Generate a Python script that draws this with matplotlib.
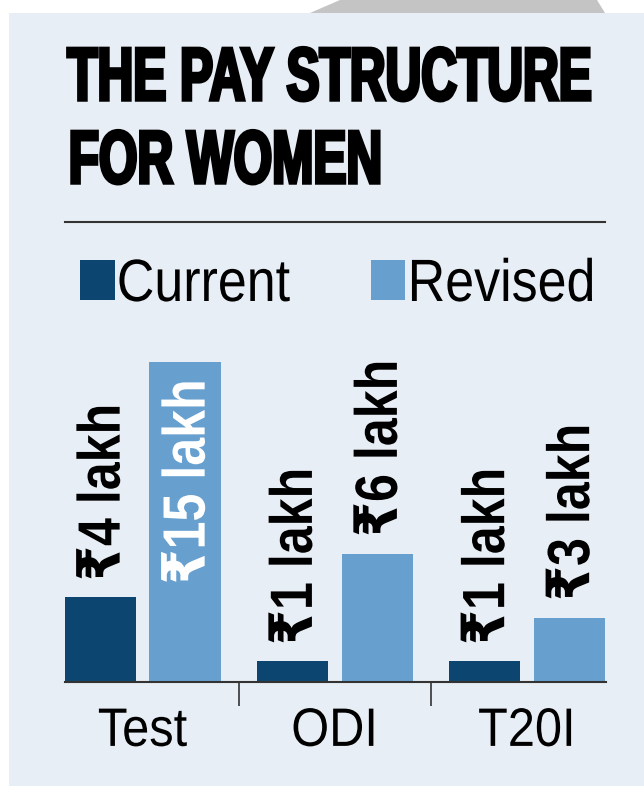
import matplotlib
matplotlib.use("Agg")
import matplotlib.pyplot as plt
import matplotlib.patheffects as pe
from matplotlib.patches import Rectangle, Polygon
from matplotlib.lines import Line2D
from matplotlib.transforms import Affine2D

# data
categories = ["Test", "ODI", "T20I"]
current = [4, 1, 1]
revised = [15, 6, 3]
current_labels = ["₹4 lakh", "₹1 lakh", "₹1 lakh"]
revised_labels = ["₹15 lakh", "₹6 lakh", "₹3 lakh"]

DARK = "#0c4670"
LIGHT = "#67a0cf"
BG = "#e8eef5"
W, H = 644, 786


class Squeeze(pe.AbstractPathEffect):
    # squeeze glyphs along the text direction around a point of the text
    # (anchor 0 = start, 0.5 = middle, 1 = end), optional stroke to fatten
    def __init__(self, sx, anchor=0.0, lw=0):
        super().__init__()
        self.sx = sx
        self.anchor = anchor
        self.lw = lw

    def draw_path(self, renderer, gc, tpath, affine, rgbFace=None):
        ext = tpath.get_extents()
        cx = ext.x0 + self.anchor * (ext.x1 - ext.x0)
        t = Affine2D().translate(-cx, 0).scale(self.sx, 1).translate(cx, 0) + affine
        if self.lw:
            gc0 = renderer.new_gc()
            gc0.copy_properties(gc)
            gc0.set_linewidth(self.lw)
            gc0.set_foreground(rgbFace)
            gc0.set_joinstyle("miter")
            renderer.draw_path(gc0, tpath, t, rgbFace)
            gc0.restore()
        else:
            renderer.draw_path(gc, tpath, t, rgbFace)


def fx(px):
    return px / W


def fy(py):
    return 1 - py / H


fig = plt.figure(figsize=(W / 100, H / 100), dpi=100)
fig.patch.set_facecolor("white")

# background panel + grey shape at top
fig.add_artist(Rectangle((fx(9), 0), 1, fy(13), transform=fig.transFigure,
                         facecolor=BG, edgecolor="none", zorder=0))
fig.add_artist(Polygon([(fx(340), 1), (fx(597), 1), (fx(605), fy(13)), (fx(310), fy(13))],
                       closed=True, transform=fig.transFigure,
                       facecolor="#c4c4c4", edgecolor="none", zorder=0))

FONT = ["Liberation Sans", "DejaVu Sans"]

# title
title_kw = dict(family=FONT, weight="bold", fontsize=54, color="black",
                ha="left", va="baseline", path_effects=[Squeeze(0.66, 0, lw=2.5)])
fig.text(fx(67), fy(100), "THE PAY STRUCTURE", **title_kw)
fig.text(fx(67), fy(183), "FOR WOMEN", **title_kw)

fig.add_artist(Line2D([fx(65), fx(605)], [fy(222), fy(222)], transform=fig.transFigure,
                      color="#333333", linewidth=1.5))

# bars
ax = fig.add_axes([fx(65), fy(682), fx(606) - fx(65), fy(362) - fy(682)])
ax.set_facecolor("none")
x = list(range(len(categories)))
off, bw = 0.221, 0.37
b1 = ax.bar([i - off for i in x], current, width=bw, color=DARK, label="Current")
b2 = ax.bar([i + off for i in x], revised, width=bw, color=LIGHT, label="Revised")
ax.set_xlim(-0.403, 2.411)
ax.set_ylim(0, 15)

for s in ["top", "right", "left"]:
    ax.spines[s].set_visible(False)
ax.spines["bottom"].set_color("#333333")
ax.spines["bottom"].set_linewidth(1.5)
ax.set_yticks([])
ax.set_xticks([0.5, 1.5])
ax.set_xticklabels([])
ax.tick_params(axis="x", direction="out", length=17, width=1.2, color="#333333")

val_kw = dict(family=FONT, weight="bold", fontsize=43, rotation=90, ha="center",
              textcoords="offset points", annotation_clip=False)
for i in x:
    ax.annotate(current_labels[i], (i - off, current[i]), xytext=(3, 11),
                va="bottom", color="black", path_effects=[Squeeze(0.84, 0)], **val_kw)
    if revised[i] == max(revised):
        ax.annotate(revised_labels[i], (i + off, revised[i]), xytext=(3, -12),
                    va="top", color="white", path_effects=[Squeeze(0.84, 1)], **val_kw)
    else:
        ax.annotate(revised_labels[i], (i + off, revised[i]), xytext=(3, 12),
                    va="bottom", color="black", path_effects=[Squeeze(0.84, 0)], **val_kw)

for i, c in enumerate(categories):
    ax.annotate(c, (i, 0), xycoords=("data", "axes fraction"), xytext=(0, -46),
                textcoords="offset points", ha="center", va="baseline",
                family=FONT, fontsize=39, path_effects=[Squeeze(0.9, 0.5)])

leg = fig.legend(handles=[b1, b2], loc="upper left", bbox_to_anchor=(fx(80), fy(258)),
                 ncol=2, frameon=False, prop={"family": FONT, "size": 43},
                 handlelength=0.58, handleheight=0.65, handletextpad=0.03,
                 columnspacing=0.92, borderpad=0, borderaxespad=0)
for t in leg.get_texts():
    t.set_path_effects([Squeeze(0.87, 0)])

fig.savefig("out.png", dpi=100, facecolor="white")
